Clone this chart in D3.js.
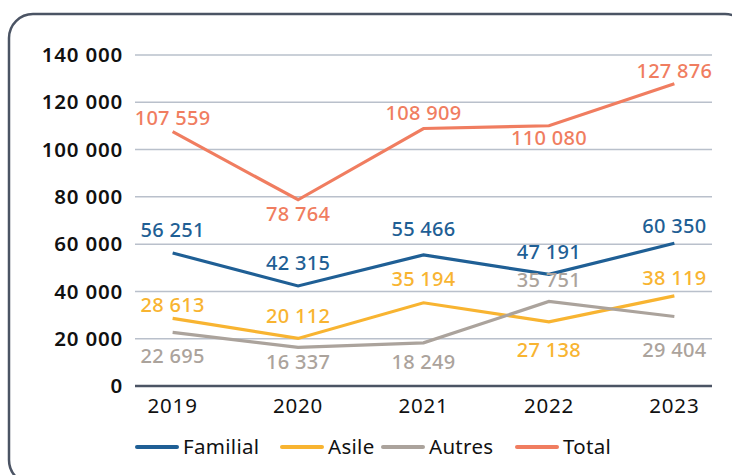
<!DOCTYPE html>
<html>
<head>
<meta charset="utf-8">
<script src="https://cdn.jsdelivr.net/npm/d3@7"></script>
<style>
  body { margin: 0; background: #fff; }
  svg { display: block; font-family: "Noto Sans", sans-serif; }
</style>
</head>
<body>
<div id="chart"></div>
<script>
var years = ["2019", "2020", "2021", "2022", "2023"];
var familial = [56251, 42315, 55466, 47191, 60350];
var asile = [28613, 20112, 35194, 27138, 38119];
var autres = [22695, 16337, 18249, 35751, 29404];
var total = [107559, 78764, 108909, 110080, 127876];
var yTicks = [0, 20000, 40000, 60000, 80000, 100000, 120000, 140000];

// label baseline offsets relative to the point (manual, as in the original)
var labelDy = {
    "Familial": [-16, -16, -19, -15, -10],
    "Asile": [-6, -15, -17, 35, -11],
    "Autres": [31, 22, 26, -14, 41],
    "Total": [-7, 21, -9, 19, -6]
};

var series = [
    {name: "Familial", values: familial, color: "#1f5f95"},
    {name: "Asile", values: asile, color: "#f8b431"},
    {name: "Autres", values: autres, color: "#aba39c"},
    {name: "Total", values: total, color: "#f07d60"}
];

var W = 732, H = 475;
var margin = {top: 55, right: 20, bottom: 89, left: 135};

var svg = d3.select("#chart").append("svg")
    .attr("width", W)
    .attr("height", H);

// rounded frame
svg.append("rect")
    .attr("x", 9).attr("y", 14)
    .attr("width", 740).attr("height", 470)
    .attr("rx", 24)
    .attr("fill", "none")
    .attr("stroke", "#4b5464")
    .attr("stroke-width", 2.5);

var fr = d3.formatLocale({decimal: ",", thousands: " ", grouping: [3], currency: ["", ""]});
var fmt = fr.format(",");

var x = d3.scalePoint().domain(years).range([margin.left, 712]).padding(0.3);
var y = d3.scaleLinear().domain([0, 140000]).range([386, 55]);

// gridlines
svg.append("g")
    .selectAll("line")
    .data(yTicks)
    .enter().append("line")
    .attr("x1", margin.left).attr("x2", 712)
    .attr("y1", d => y(d)).attr("y2", d => y(d))
    .attr("stroke", d => d === 0 ? "#4b5464" : "#b9c0cb")
    .attr("stroke-width", d => d === 0 ? 2.5 : 1.5);

// y labels
svg.append("g")
    .selectAll("text")
    .data(yTicks)
    .enter().append("text")
    .attr("x", 123)
    .attr("y", d => y(d))
    .attr("dy", "0.35em")
    .attr("text-anchor", "end")
    .attr("font-size", 20.5)
    .attr("font-weight", 600)
    .attr("letter-spacing", 0.8)
    .attr("fill", "#111")
    .text(d => fmt(d));

// x labels
svg.append("g")
    .selectAll("text")
    .data(years)
    .enter().append("text")
    .attr("x", d => x(d))
    .attr("y", 413)
    .attr("text-anchor", "middle")
    .attr("font-size", 20.5)
    .attr("letter-spacing", 0.8)
    .attr("fill", "#111")
    .text(d => d);

var line = d3.line()
    .x((d, i) => x(years[i]))
    .y(d => y(d));

series.forEach(function(s) {
    svg.append("path")
        .attr("d", line(s.values))
        .attr("fill", "none")
        .attr("stroke", s.color)
        .attr("stroke-width", 3.2)
        .attr("stroke-linejoin", "miter");
});

series.forEach(function(s) {
    svg.append("g")
        .selectAll("text")
        .data(s.values)
        .enter().append("text")
        .attr("x", (d, i) => x(years[i]))
        .attr("y", (d, i) => y(d) + labelDy[s.name][i])
        .attr("text-anchor", "middle")
        .attr("font-size", 20)
        .attr("font-weight", 500)
        .attr("letter-spacing", 0.3)
        .attr("fill", s.color)
        .text(d => fmt(d));
});

// legend
var legendX = [137, 282, 383, 517];
var legend = svg.append("g")
    .selectAll("g")
    .data(series)
    .enter().append("g")
    .attr("transform", (d, i) => "translate(" + legendX[i] + ",447)");

legend.append("line")
    .attr("x1", 0).attr("x2", 40)
    .attr("stroke", d => d.color)
    .attr("stroke-width", 4)
    .attr("stroke-linecap", "round");

legend.append("text")
    .attr("x", 46)
    .attr("dy", "0.35em")
    .attr("font-size", 20.5)
    .attr("letter-spacing", 0.3)
    .attr("fill", "#111")
    .text(d => d.name);
</script>
</body>
</html>
